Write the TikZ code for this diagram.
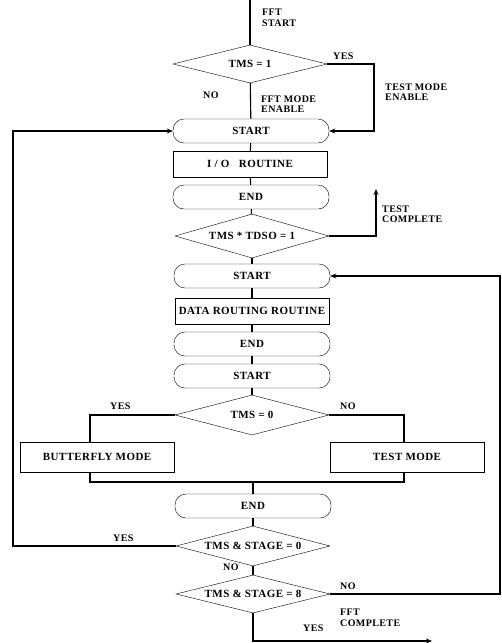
\documentclass[tikz,border=0pt]{standalone}
\usepackage{fontspec}
\setmainfont{Liberation Serif}[LetterSpace=4]
\usetikzlibrary{shapes.geometric,arrows.meta}
\tikzset{
  every node/.style={font=\bfseries\fontsize{11}{12}\selectfont},
  term/.style={draw,rounded corners=11pt,minimum width=156pt,minimum height=24pt,inner sep=1pt},
  proc/.style={draw,minimum width=154pt,minimum height=26pt,inner sep=1pt},
  decide/.style={draw,diamond,aspect=4,inner sep=0pt,minimum width=154pt,minimum height=38pt},
  lbl/.style={anchor=west,align=left,inner sep=0pt,font=\bfseries\fontsize{10}{10.5}\selectfont},
  flow/.style={line width=1.1pt},
  arr/.style={flow,-{Stealth[length=6pt,width=5pt]}}
}
\begin{document}
\begin{tikzpicture}[x=1pt,y=-1pt]
\useasboundingbox (0,0) rectangle (502,643);
\coordinate (top) at (250,0);
\node[decide] (d1) at (250,64) {TMS = 1};
\node[term] (s1) at (251,131) {START};
\node[proc] (io) at (250,164) {I / O \ \ ROUTINE};
\node[term] (e1) at (251,197) {END};
\node[decide,minimum height=44pt] (d2) at (252,236) {TMS * TDSO = 1};
\node[term] (s2) at (252,276) {START};
\node[proc] (dr) at (252,311) {DATA ROUTING ROUTINE};
\node[term] (e2) at (252,344) {END};
\node[term] (s3) at (252,376) {START};
\node[decide,minimum height=40pt] (d3) at (252,415) {TMS = 0};
\node[proc,minimum height=30pt] (bf) at (97,457) {BUTTERFLY MODE};
\node[proc,minimum height=30pt] (tm) at (407,457) {TEST MODE};
\node[term] (e3) at (253,506) {END};
\node[decide,minimum height=40pt] (d4) at (253,546) {TMS \& STAGE = 0};
\node[decide,minimum height=38pt] (d5) at (253,594) {TMS \& STAGE = 8};
% branch points
\coordinate (r1) at (374,64);
\coordinate (tc) at (376,189);
\coordinate (bfx) at (90,415);
\coordinate (tmx) at (404,415);
\coordinate (mrg) at (253,482);
\coordinate (lft) at (13,546);
\coordinate (rgt) at (500,594);
\coordinate (bot) at (253,641);
\coordinate (fin) at (432,641);
% labels
\node[lbl] (l1) at (262,18) {FFT\\START};
\node[lbl] (l2) at (333,56) {YES};
\node[lbl] (l3) at (385,92) {TEST MODE\\ENABLE};
\node[lbl] (l4) at (203,95) {NO};
\node[lbl] (l5) at (261,104) {FFT MODE\\ENABLE};
\node[lbl] (l6) at (382,214) {TEST\\COMPLETE};
\node[lbl] (l7) at (110,406) {YES};
\node[lbl] (l8) at (340,406) {NO};
\node[lbl] (l9) at (113,538) {YES};
\node[lbl] (l10) at (223,567) {NO};
\node[lbl] (l11) at (340,586) {NO};
\node[lbl] (l12) at (303,628) {YES};
\node[lbl] (l13) at (340,618) {FFT\\COMPLETE};
% main column
\draw[flow] (top) -- (d1.north);
\draw[flow] (d1) -- (s1);
\draw[flow] (s1) -- (io);
\draw[flow] (io) -- (e1);
\draw[flow] (e1) -- (d2);
\draw[flow] (d2) -- (s2);
\draw[flow] (s2) -- (dr);
\draw[flow] (dr) -- (e2);
\draw[flow] (e2) -- (s3);
\draw[flow] (s3) -- (d3);
\draw[flow] (e3) -- (d4);
\draw[flow] (d4) -- (d5);
% side paths
\draw[arr] (d1.east) -- (r1) |- (s1.east);
\draw[arr] (d2.east) -| (tc);
\draw[flow] (d3.west) -- (bfx) -- (bfx |- bf.north);
\draw[flow] (d3.east) -- (tmx) -- (tmx |- tm.north);
\draw[flow] (bfx |- bf.south) -- (bfx |- mrg) -- (tmx |- mrg) -- (tmx |- tm.south);
\draw[flow] (mrg) -- (e3);
\draw[arr] (d4.west) -- (lft) |- (s1.west);
\draw[arr] (d5.east) -- (rgt) |- (s2.east);
\draw[arr] (d5.south) -- (bot) -- (fin);
\end{tikzpicture}
\end{document}
